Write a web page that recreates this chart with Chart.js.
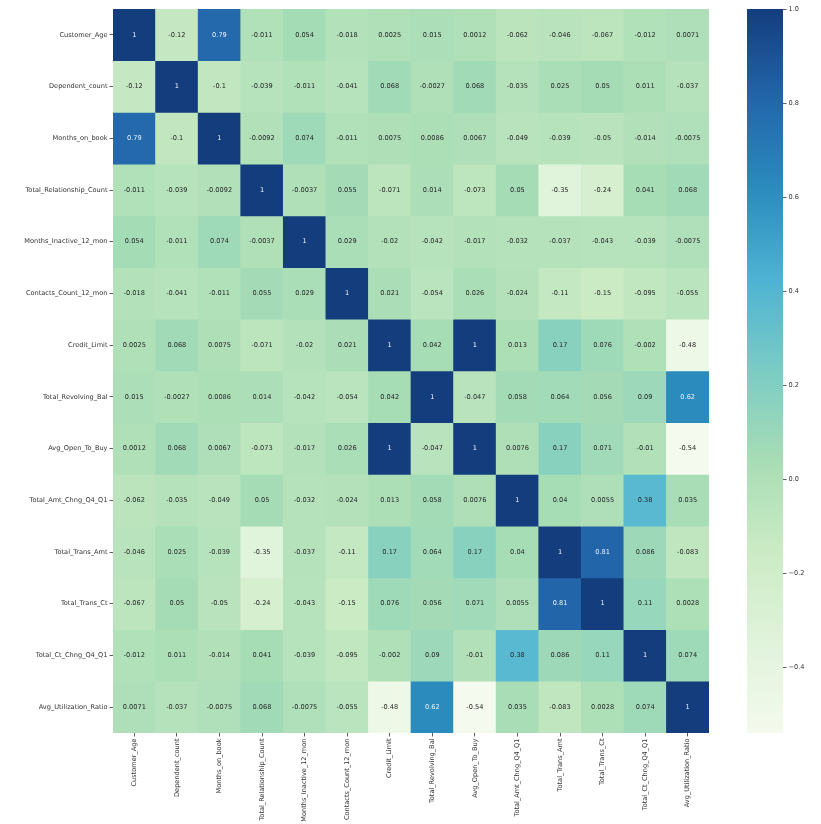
<!DOCTYPE html>
<html>
<head>
<meta charset="utf-8">
<script src="https://cdn.jsdelivr.net/npm/chart.js@4/dist/chart.umd.min.js"></script>
<style>
  html, body { margin: 0; padding: 0; background: #fff; }
  #heat { position: absolute; left: 0; top: 0; width: 821px; height: 824px; }
  #bar { position: absolute; left: 747px; top: 0; width: 74px; height: 824px; }
</style>
</head>
<body>
<div id="heat"><canvas id="heatCanvas"></canvas></div>
<div id="bar"><canvas id="barCanvas"></canvas></div>
<script>
// Feature names (rows and columns share the same order)
const features = [
  'Customer_Age', 'Dependent_count', 'Months_on_book', 'Total_Relationship_Count',
  'Months_Inactive_12_mon', 'Contacts_Count_12_mon', 'Credit_Limit', 'Total_Revolving_Bal',
  'Avg_Open_To_Buy', 'Total_Amt_Chng_Q4_Q1', 'Total_Trans_Amt', 'Total_Trans_Ct',
  'Total_Ct_Chng_Q4_Q1', 'Avg_Utilization_Ratio'
];

// Correlation rows
const rowCustomerAge   = [1, -0.12, 0.79, -0.011, 0.054, -0.018, 0.0025, 0.015, 0.0012, -0.062, -0.046, -0.067, -0.012, 0.0071];
const rowDependent     = [-0.12, 1, -0.1, -0.039, -0.011, -0.041, 0.068, -0.0027, 0.068, -0.035, 0.025, 0.05, 0.011, -0.037];
const rowMonthsOnBook  = [0.79, -0.1, 1, -0.0092, 0.074, -0.011, 0.0075, 0.0086, 0.0067, -0.049, -0.039, -0.05, -0.014, -0.0075];
const rowRelationship  = [-0.011, -0.039, -0.0092, 1, -0.0037, 0.055, -0.071, 0.014, -0.073, 0.05, -0.35, -0.24, 0.041, 0.068];
const rowInactive      = [0.054, -0.011, 0.074, -0.0037, 1, 0.029, -0.02, -0.042, -0.017, -0.032, -0.037, -0.043, -0.039, -0.0075];
const rowContacts      = [-0.018, -0.041, -0.011, 0.055, 0.029, 1, 0.021, -0.054, 0.026, -0.024, -0.11, -0.15, -0.095, -0.055];
const rowCreditLimit   = [0.0025, 0.068, 0.0075, -0.071, -0.02, 0.021, 1, 0.042, 1, 0.013, 0.17, 0.076, -0.002, -0.48];
const rowRevolving     = [0.015, -0.0027, 0.0086, 0.014, -0.042, -0.054, 0.042, 1, -0.047, 0.058, 0.064, 0.056, 0.09, 0.62];
const rowOpenToBuy     = [0.0012, 0.068, 0.0067, -0.073, -0.017, 0.026, 1, -0.047, 1, 0.0076, 0.17, 0.071, -0.01, -0.54];
const rowAmtChng       = [-0.062, -0.035, -0.049, 0.05, -0.032, -0.024, 0.013, 0.058, 0.0076, 1, 0.04, 0.0055, 0.38, 0.035];
const rowTransAmt      = [-0.046, 0.025, -0.039, -0.35, -0.037, -0.11, 0.17, 0.064, 0.17, 0.04, 1, 0.81, 0.086, -0.083];
const rowTransCt       = [-0.067, 0.05, -0.05, -0.24, -0.043, -0.15, 0.076, 0.056, 0.071, 0.0055, 0.81, 1, 0.11, 0.0028];
const rowCtChng        = [-0.012, 0.011, -0.014, 0.041, -0.039, -0.095, -0.002, 0.09, -0.01, 0.38, 0.086, 0.11, 1, 0.074];
const rowUtilization   = [0.0071, -0.037, -0.0075, 0.068, -0.0075, -0.055, -0.48, 0.62, -0.54, 0.035, -0.083, 0.0028, 0.074, 1];

const corr = [
  rowCustomerAge, rowDependent, rowMonthsOnBook, rowRelationship, rowInactive,
  rowContacts, rowCreditLimit, rowRevolving, rowOpenToBuy, rowAmtChng,
  rowTransAmt, rowTransCt, rowCtChng, rowUtilization
];

// Colour bar ticks
const colorbarTicks = [-0.4, -0.2, 0.0, 0.2, 0.4, 0.6, 0.8, 1.0];

// GnBu-like palette, dark end toned to match the picture
const gnbu = ['#f4faed', '#e0f3db', '#ccebc5', '#a8ddb5', '#7bccc4', '#4eb3d3', '#2b8cbe', '#2266aa', '#143d7e'];

const vmin = Math.min(...corr.flat());
const vmax = Math.max(...corr.flat());
const FONT = { family: 'DejaVu Sans', size: 6.6 };
const TEXT = '#333333';

function hexToRgb(h) {
  return [parseInt(h.slice(1, 3), 16), parseInt(h.slice(3, 5), 16), parseInt(h.slice(5, 7), 16)];
}

function colorFor(v) {
  let t = (v - vmin) / (vmax - vmin);
  t = Math.max(0, Math.min(1, t)) * (gnbu.length - 1);
  const i = Math.min(Math.floor(t), gnbu.length - 2);
  const f = t - i;
  const a = hexToRgb(gnbu[i]), b = hexToRgb(gnbu[i + 1]);
  const c = a.map((x, k) => Math.round(x + (b[k] - x) * f));
  return `rgb(${c[0]}, ${c[1]}, ${c[2]})`;
}

// same rule seaborn uses to pick annotation colour
function luminance(rgbStr) {
  const c = rgbStr.match(/\d+/g).map(Number).map(x => {
    x /= 255;
    return x <= 0.03928 ? x / 12.92 : Math.pow((x + 0.055) / 1.055, 2.4);
  });
  return 0.2126 * c[0] + 0.7152 * c[1] + 0.0722 * c[2];
}

function fmt(v) {
  return String(Number(v.toPrecision(2)));
}

// one stacked dataset per row, every cell one unit tall
const datasets = corr.map((row, r) => ({
  label: features[r],
  data: row.map(() => 1),
  corr: row,
  backgroundColor: row.map(colorFor),
  borderWidth: 0,
  barPercentage: 1,
  categoryPercentage: 1
}));

const annotatePlugin = {
  id: 'annotate',
  afterDatasetsDraw(chart) {
    const ctx = chart.ctx;
    ctx.save();
    ctx.font = `${FONT.size}px ${FONT.family}`;
    ctx.textAlign = 'center';
    ctx.textBaseline = 'middle';
    chart.data.datasets.forEach((ds, r) => {
      chart.getDatasetMeta(r).data.forEach((el, c) => {
        const v = ds.corr[c];
        const p = el.getCenterPoint();
        ctx.fillStyle = luminance(ds.backgroundColor[c]) > 0.408 ? '#262626' : '#eef2f8';
        ctx.fillText(fmt(v), p.x, p.y);
      });
    });
    ctx.restore();
  }
};

new Chart(document.getElementById('heatCanvas'), {
  type: 'bar',
  data: { labels: features, datasets },
  plugins: [annotatePlugin],
  options: {
    responsive: true,
    maintainAspectRatio: false,
    animation: false,
    events: [],
    layout: { padding: { top: 9, right: 112, left: 0, bottom: 0 } },
    plugins: { legend: { display: false }, tooltip: { enabled: false } },
    scales: {
      x: {
        stacked: true,
        afterFit(scale) { scale.height = 91; },
        grid: { display: true, offset: false, drawOnChartArea: false, drawTicks: true, tickLength: 3.5, color: TEXT, lineWidth: 0.8 },
        border: { display: false },
        ticks: { color: TEXT, font: FONT, padding: 2, autoSkip: false, minRotation: 90, maxRotation: 90 }
      },
      y: {
        stacked: true,
        reverse: true,
        min: 0,
        max: features.length,
        afterFit(scale) { scale.width = 113; },
        afterBuildTicks(scale) { scale.ticks = features.map((_, i) => ({ value: i + 0.5 })); },
        grid: { display: true, drawOnChartArea: false, drawTicks: true, tickLength: 3.5, color: TEXT, lineWidth: 0.8 },
        border: { display: false },
        ticks: {
          color: TEXT, font: FONT, padding: 2, autoSkip: false,
          callback: (value, index) => features[index]
        }
      }
    }
  }
});

// colour bar: one floating bar filled with the palette
function barGradient(context) {
  const area = context.chart.chartArea;
  if (!area) return gnbu[4];
  const g = context.chart.ctx.createLinearGradient(0, area.bottom, 0, area.top);
  gnbu.forEach((c, i) => g.addColorStop(i / (gnbu.length - 1), c));
  return g;
}

new Chart(document.getElementById('barCanvas'), {
  type: 'bar',
  data: {
    labels: [''],
    datasets: [{ data: [[vmin, vmax]], backgroundColor: barGradient, borderWidth: 0, barPercentage: 1, categoryPercentage: 1 }]
  },
  options: {
    responsive: true,
    maintainAspectRatio: false,
    animation: false,
    events: [],
    layout: { padding: { top: 9, bottom: 91, left: 0, right: 0 } },
    plugins: { legend: { display: false }, tooltip: { enabled: false } },
    scales: {
      x: { display: false },
      y: {
        position: 'right',
        min: vmin,
        max: vmax,
        afterFit(scale) { scale.width = 38; },
        afterBuildTicks(scale) { scale.ticks = colorbarTicks.map(v => ({ value: v })); },
        grid: { display: true, drawOnChartArea: false, drawTicks: true, tickLength: 3.5, color: TEXT, lineWidth: 0.8 },
        border: { display: false },
        ticks: {
          color: TEXT, font: FONT, padding: 2,
          callback: (value) => value.toFixed(1).replace('-', '\u2212')
        }
      }
    }
  }
});
</script>
</body>
</html>
